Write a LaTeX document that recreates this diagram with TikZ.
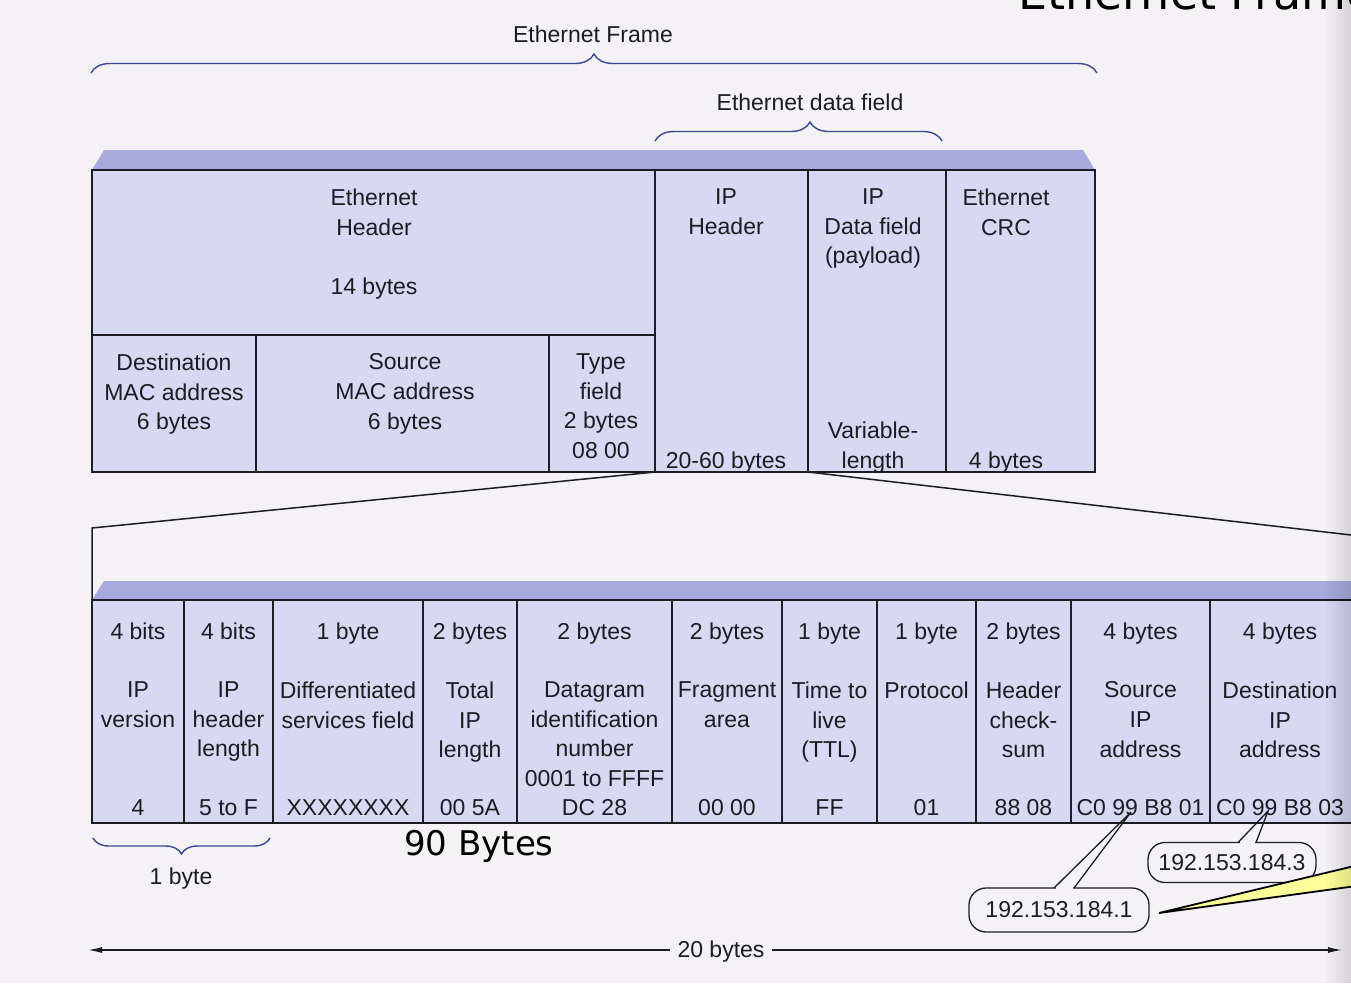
\documentclass[tikz,border=0pt]{standalone}
\usepackage{fontspec}
\setmainfont{Liberation Sans}
\newfontfamily\djvfont{DejaVu Sans}
\usetikzlibrary{decorations.pathreplacing,arrows.meta}
\definecolor{bg}{RGB}{244,242,244}
\definecolor{cellfill}{RGB}{215,216,241}
\definecolor{bandc}{RGB}{166,170,222}
\definecolor{ink}{RGB}{28,28,34}
\definecolor{bracec}{RGB}{58,72,145}
\definecolor{callyellow}{RGB}{255,255,153}
\begin{document}
\begin{tikzpicture}[x=1pt,y=-1pt,
  ln/.style={draw=ink, line width=1.8pt},
  lbl/.style={font=\fontsize{23}{29.7}\selectfont, text=ink, align=center, inner sep=0pt},
  ml/.style={lbl, anchor=north},
  sl/.style={lbl, anchor=base},
  brc/.style={decorate, decoration={brace, amplitude=19pt}, draw=bracec, line width=1.4pt},
  bub/.style={draw=ink, line width=1.3pt, rounded corners=17pt, fill=bg, font=\fontsize{23}{28}\selectfont, text=ink, inner sep=0pt},
  bigtxt/.style={font=\djvfont\fontsize{34}{40}\selectfont, text=black, inner sep=0pt, anchor=base west},
  arr/.style={draw=ink, line width=1.4pt, -{Latex[length=14pt,width=6pt]}, shorten <=7pt}
]
\useasboundingbox (0,0) rectangle (1351,983);
\fill[bg] (0,0) rectangle (1351,983);
\begin{scope}
\clip (0,0) rectangle (1351,983);

% partly visible title at top right
\node[bigtxt, font=\djvfont\fontsize{46}{52}\selectfont] (ttl) at (1018,9) {Ethernet Frame};

% braces and their labels
\node[sl] (eflbl) at (593,42) {Ethernet Frame};
\coordinate (efL) at (91,73); \coordinate (efR) at (1097,73);
\draw[brc] (efL) -- (efR);
\node[sl] (edlbl) at (810,110) {Ethernet data field};
\coordinate (edL) at (655,141); \coordinate (edR) at (942,141);
\draw[brc, decoration={aspect=0.54}] (edL) -- (edR);

% upper frame
\fill[bandc] (92,170) -- (104,150) -- (1083,150) -- (1095,170) -- cycle;
\fill[cellfill] (92,170) rectangle (1095,472);
\draw[ln] (92,170) rectangle (1095,472);
\draw[ln] (92,335) -- (655,335);
\draw[ln] (655,170) -- (655,472);
\draw[ln] (808,170) -- (808,472);
\draw[ln] (946,170) -- (946,472);
\draw[ln] (256,335) -- (256,472);
\draw[ln] (549,335) -- (549,472);

\node[ml] (eth) at (374,188.5) {Ethernet\\Header};
\node[sl] (ethb) at (374,294.5) {14 bytes};
\node[ml] (dmac) at (174,353.5) {Destination\\MAC address\\6 bytes};
\node[ml] (smac) at (405,353.5) {Source\\MAC address\\6 bytes};
\node[ml] (typ) at (601,353.5) {Type\\field\\2 bytes\\08 00};
\node[ml] (iph) at (726,188.5) {IP\\Header};
\node[sl] (iphb) at (726,468) {20-60 bytes};
\node[ml] (ipd) at (873,188.5) {IP\\Data field\\(payload)};
\node[ml] (ipdb) at (873,422) {Variable-\\length};
\node[ml] (crc) at (1006,188.5) {Ethernet\\CRC};
\node[sl] (crcb) at (1006,468) {4 bytes};

% expansion lines
\coordinate (iphSW) at (655,472);
\coordinate (iphSE) at (808,472);
\coordinate (expL) at (92,528);
\coordinate (lowTL) at (92,600);
\coordinate (expR) at (1420,543);
\draw[draw=ink, line width=1.5pt] (iphSW) -- (expL) -- (lowTL);
\draw[draw=ink, line width=1.5pt] (iphSE) -- (expR);

% lower table
\fill[bandc] (92,600) -- (104,581) -- (1420,581) -- (1420,600) -- cycle;
\fill[cellfill] (92,600) rectangle (1420,823);
\draw[ln] (1420,600) -- (92,600) -- (92,823) -- (1420,823);
\foreach \x in {184,273,423,517,672,782,877,976,1071,1210}
  \draw[ln] (\x,600) -- (\x,823);

\node[sl] (s1) at (138,639.5) {4 bits};
\node[sl] (s2) at (228.5,639.5) {4 bits};
\node[sl] (s3) at (348,639.5) {1 byte};
\node[sl] (s4) at (470,639.5) {2 bytes};
\node[sl] (s5) at (594.5,639.5) {2 bytes};
\node[sl] (s6) at (727,639.5) {2 bytes};
\node[sl] (s7) at (829.5,639.5) {1 byte};
\node[sl] (s8) at (926.5,639.5) {1 byte};
\node[sl] (s9) at (1023.5,639.5) {2 bytes};
\node[sl] (s10) at (1140.5,639.5) {4 bytes};
\node[sl] (s11) at (1280,639.5) {4 bytes};

\node[ml] (n1) at (138,681.5) {IP\\version};
\node[ml] (n2) at (228.5,681.5) {IP\\header\\length};
\node[ml] (n3) at (348,681.5) {Differentiated\\services field};
\node[ml] (n4) at (470,681.5) {Total\\IP\\length};
\node[ml] (n5) at (594.5,681.5) {Datagram\\identification\\number\\0001 to FFFF};
\node[ml] (n6) at (727,681.5) {Fragment\\area};
\node[ml] (n7) at (829.5,681.5) {Time to\\live\\(TTL)};
\node[ml] (n8) at (926.5,681.5) {Protocol};
\node[ml] (n9) at (1023.5,681.5) {Header\\check-\\sum};
\node[ml] (n10) at (1140.5,681.5) {Source\\IP\\address};
\node[ml] (n11) at (1280,681.5) {Destination\\IP\\address};

\node[sl] (v1) at (138,815) {4};
\node[sl] (v2) at (228.5,815) {5 to F};
\node[sl] (v3) at (348,815) {XXXXXXXX};
\node[sl] (v4) at (470,815) {00 5A};
\node[sl] (v5) at (594.5,815) {DC 28};
\node[sl] (v6) at (727,815) {00 00};
\node[sl] (v7) at (829.5,815) {FF};
\node[sl] (v8) at (926.5,815) {01};
\node[sl] (v9) at (1023.5,815) {88 08};
\node[sl] (v10) at (1140.5,815) {C0 99 B8 01};
\node[sl] (v11) at (1280,815) {C0 99 B8 03};

% 1 byte brace
\coordinate (obR) at (270,838); \coordinate (obL) at (93,838);
\draw[brc, decoration={amplitude=16pt}] (obR) -- (obL);
\node[sl] (oblbl) at (181,884) {1 byte};

% 90 Bytes
\node[bigtxt] (nb) at (404,855) {90 Bytes};

% 20 bytes arrow
\node[sl] (lbl20) at (721,957) {20 bytes};
\coordinate (arL) at (88,950);
\coordinate (arR) at (1342,950);
\draw[arr] (arL -| lbl20.west) -- (arL);
\draw[arr] (arR -| lbl20.east) -- (arR);

% callouts
\node[bub, minimum width=180pt, minimum height=44pt] (c1) at (1059,910) {192.153.184.1};
\coordinate (t1) at (1131,812);
\coordinate (b1a) at (1054,888);
\coordinate (b1b) at (1074,888);
\fill[bg] (1055.5,885) rectangle (1072.5,891);
\draw[draw=ink, line width=1.3pt] (b1a) -- (t1) -- (b1b);

\node[bub, minimum width=168pt, minimum height=40pt] (c3) at (1232,862.5) {192.153.184.3};
\coordinate (t3) at (1268,811);
\coordinate (b3a) at (1238,842.5);
\coordinate (b3b) at (1256,842.5);
\fill[bg] (1239.5,839.5) rectangle (1254.5,845.5);
\draw[draw=ink, line width=1.3pt] (b3a) -- (t3) -- (b3b);

% yellow pointer wedge
\coordinate (wtip) at (1159,913);
\fill[callyellow, draw=black, line width=1.8pt, line join=miter] (1400,855) -- (wtip) -- (1400,880) -- cycle;

% slightly darkened page edge
\foreach \i in {0,...,9}
  \fill[black, opacity=0.013] (1326+\i*2.5,0) rectangle (1351,983);
\end{scope}
\end{tikzpicture}
\end{document}
